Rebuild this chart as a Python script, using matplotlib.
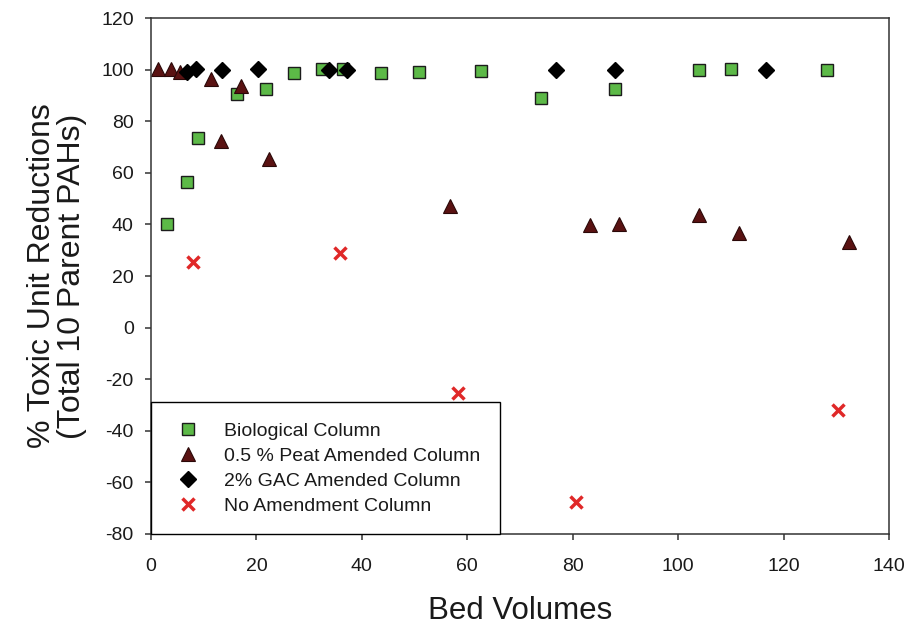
import matplotlib
matplotlib.use("Agg")
import matplotlib.pyplot as plt

plt.rcParams['font.family'] = ['Liberation Sans', 'DejaVu Sans']
plt.rcParams['axes.unicode_minus'] = False

# Biological column
bio_x = [3.1, 6.8, 9.0, 16.3, 21.8, 27.1, 32.4, 36.4, 43.6, 50.9, 62.6, 73.9, 88.0, 104.0, 110.1, 128.3]
bio_y = [40.3, 56.6, 73.6, 90.4, 92.5, 98.6, 100.1, 100.1, 98.8, 99.0, 99.5, 89.1, 92.5, 99.8, 100.2, 99.8]

# 0.5 % peat amended column
peat_x = [1.4, 3.7, 5.5, 11.4, 13.3, 17.0, 22.4, 56.7, 83.2, 88.8, 104.0, 111.5, 132.4]
peat_y = [100.1, 100.1, 99.2, 96.4, 72.4, 93.6, 65.5, 47.1, 39.8, 40.0, 43.6, 36.8, 33.3]

# 2% GAC amended column
gac_x = [6.8, 8.5, 13.4, 20.2, 33.8, 37.1, 76.8, 88.0, 116.6]
gac_y = [99.2, 100.1, 100.0, 100.3, 100.0, 100.0, 100.0, 100.0, 99.8]

# no amendment column
none_x = [7.9, 35.9, 58.3, 80.6, 130.3]
none_y = [25.3, 28.8, -25.5, -67.6, -31.9]

x_ticks = [0, 20, 40, 60, 80, 100, 120, 140]
y_ticks = [-80, -60, -40, -20, 0, 20, 40, 60, 80, 100, 120]

fig = plt.figure(figsize=(9.07, 6.28), dpi=100)
ax = fig.add_axes([0.1665, 0.1497, 0.8137, 0.8216])

ax.plot(bio_x, bio_y, ls='none', marker='s', ms=8.5, mfc='#5cb947', mec='#1c1c1c', mew=1.0,
        label='Biological Column')
ax.plot(peat_x, peat_y, ls='none', marker='^', ms=10, mfc='#5a1212', mec='#2a0808', mew=0.8,
        label='0.5 % Peat Amended Column')
ax.plot(gac_x, gac_y, ls='none', marker='D', ms=8, mfc='black', mec='black',
        label='2% GAC Amended Column')
ax.plot(none_x, none_y, ls='none', marker='x', ms=8, mec='#e02828', mew=2.5,
        label='No Amendment Column')

ax.set_xlim(0, 140)
ax.set_ylim(-80, 120)
ax.set_xticks(x_ticks)
ax.set_yticks(y_ticks)

for s in ax.spines.values():
    s.set_color('#333333')
    s.set_linewidth(1.1)

ax.tick_params(axis='both', direction='out', length=4.5, width=1.1, color='#333333',
               labelsize=14, labelcolor='#1a1a1a')
ax.tick_params(axis='y', pad=8)
ax.tick_params(axis='x', pad=13)

ax.set_xlabel('Bed Volumes', fontsize=22.5, color='#1a1a1a', labelpad=15)
ax.set_ylabel('% Toxic Unit Reductions\n(Total 10 Parent PAHs)', fontsize=23, color='#1a1a1a',
              linespacing=1.0, labelpad=10)

leg = ax.legend(loc='lower left', bbox_to_anchor=(0, 0), borderaxespad=0, fontsize=14,
                numpoints=1, handlelength=1.8, handletextpad=0.95, borderpad=1.0,
                labelspacing=0.38, fancybox=False, framealpha=1)
leg.get_frame().set_edgecolor('black')
leg.get_frame().set_linewidth(1.0)
for t in leg.get_texts():
    t.set_color('#1a1a1a')

fig.savefig('out.png', dpi=100)
